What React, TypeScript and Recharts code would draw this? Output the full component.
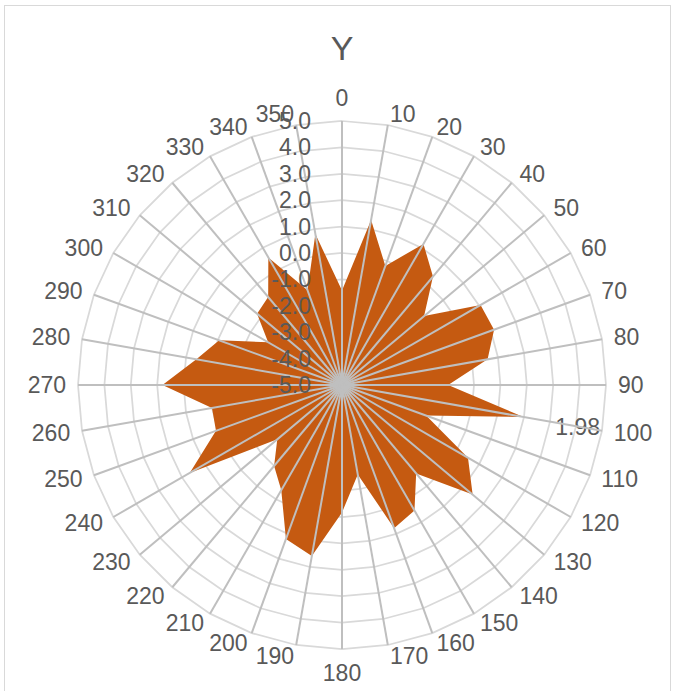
import React from "react";
import { PolarAngleAxis, PolarGrid, PolarRadiusAxis, Radar, RadarChart } from "recharts";

// direction in degrees, clockwise from the top
const CATEGORIES = [
  "0", "10", "20", "30", "40", "50", "60", "70", "80", "90", "100", "110",
  "120", "130", "140", "150", "160", "170", "180", "190", "200", "210", "220", "230",
  "240", "250", "260", "270", "280", "290", "300", "310", "320", "330", "340", "350",
];

const Y_VALUES = [
  -1.42, 1.35, -0.2, 1.17, 0.36, -0.94, 1.06, 1.13, 0.6, -0.98, 1.98, -1.61,
  0.51, 1.46, -0.63, 0.49, 0.77, -1.56, -0.17, 1.58, 1.21, -0.4, -1.0, -1.8,
  1.66, 0.08, 0.0, 1.8, 0.6, -0.05, -1.77, -0.8, -0.65, 0.58, -1.18, 0.81,
];

const RADIUS_DOMAIN = [-5, 5];
const RADIUS_TICK_COUNT = 11;
const LABELED_CATEGORY = "100"; // only this point carries a data label

const CX = 342;
const CY = 385;
const OUTER_R = 264;

const FONT = "'Liberation Sans', Arial, sans-serif";
const COLORS = {
  fill: "#C55A11",
  ring: "#d9d9d9",
  spoke: "#bfbfbf",
  text: "#595959",
  frame: "#d9d9d9",
};

const data = CATEGORIES.map((angle, i) => ({ angle, y: Y_VALUES[i] }));

function AngleTick(props: any) {
  const { payload } = props;
  const rad = (payload.coordinate * Math.PI) / 180;
  const ux = Math.cos(rad);
  const uy = -Math.sin(rad);
  const px = CX + OUTER_R * ux;
  const py = CY + OUTER_R * uy;
  let x = px;
  let y = py;
  let anchor: "start" | "end" | "middle" = "middle";
  if (Math.abs(ux) < 0.01) {
    y = py + Math.sign(uy) * 23.5;
  } else {
    x = px + 12 * ux;
    y = py + 11 * uy;
    anchor = ux > 0 ? "start" : "end";
  }
  return (
    <text x={x} y={y} textAnchor={anchor} dominantBaseline="central" fill={COLORS.text} fontSize={23} fontFamily={FONT}>
      {payload.value}
    </text>
  );
}

function RadiusTick(props: any) {
  const { x, y, payload } = props;
  return (
    <text x={x - 31} y={y} textAnchor="end" dominantBaseline="central" fill={COLORS.text} fontSize={23} fontFamily={FONT}>
      {Number(payload.value).toFixed(1)}
    </text>
  );
}

// the only "dot" drawn is the value label on the labelled direction
function ValueLabel(props: any) {
  const { cx, cy, payload, index } = props;
  if (!payload || payload.angle !== LABELED_CATEGORY) return <g key={`lbl-${index}`} />;
  const dx = cx - CX;
  const dy = cy - CY;
  const len = Math.sqrt(dx * dx + dy * dy) || 1;
  return (
    <text
      key={`lbl-${index}`}
      x={cx + (dx / len) * 55}
      y={cy + (dy / len) * 55}
      textAnchor="middle"
      dominantBaseline="central"
      fill={COLORS.text}
      fontSize={23}
      fontFamily={FONT}
    >
      {Number(payload.y).toFixed(2)}
    </text>
  );
}

export default function App() {
  return (
    <div style={{ position: "absolute", left: 0, top: 0, width: 673, height: 691, overflow: "hidden", background: "#fff" }}>
      <div
        style={{
          position: "absolute",
          left: 4,
          top: 5,
          width: 667,
          height: 720,
          border: `1px solid ${COLORS.frame}`,
          boxSizing: "border-box",
        }}
      />
      <div
        style={{
          position: "absolute",
          left: 0,
          top: 31,
          width: 684,
          textAlign: "center",
          fontFamily: FONT,
          fontSize: 34,
          lineHeight: "34px",
          color: COLORS.text,
        }}
      >
        Y
      </div>
      <div style={{ position: "absolute", left: 0, top: 0 }}>
        <RadarChart
          width={673}
          height={691}
          data={data}
          cx={CX}
          cy={CY}
          outerRadius={OUTER_R}
          margin={{ top: 0, right: 0, bottom: 0, left: 0 }}
        >
          <PolarGrid gridType="polygon" radialLines={false} stroke={COLORS.ring} strokeWidth={1.75} />
          <PolarAngleAxis dataKey="angle" tick={AngleTick} tickLine={false} axisLine={false} />
          <Radar
            dataKey="y"
            fill={COLORS.fill}
            fillOpacity={1}
            stroke="none"
            dot={ValueLabel}
            isAnimationActive={false}
          />
          {/* spokes only, lifted above the filled area as in the reference */}
          <PolarGrid
            gridType="polygon"
            polarRadius={[]}
            stroke={COLORS.spoke}
            strokeWidth={2}
            {...({ zIndex: 600 } as any)}
          />
          <PolarRadiusAxis
            angle={90}
            domain={RADIUS_DOMAIN}
            tickCount={RADIUS_TICK_COUNT}
            axisLine={false}
            tickLine={false}
            tick={RadiusTick}
            {...({ zIndex: 700 } as any)}
          />
        </RadarChart>
      </div>
    </div>
  );
}
